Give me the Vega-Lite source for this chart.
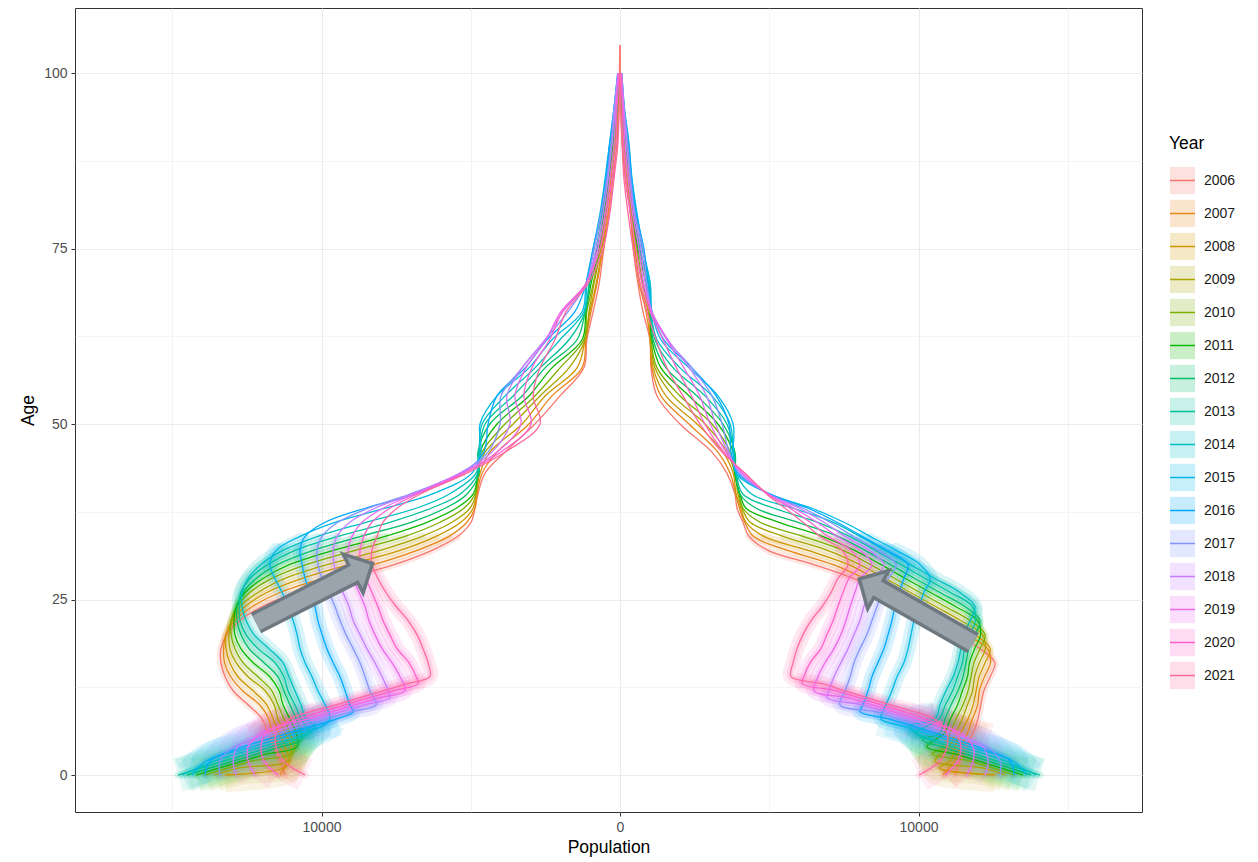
{
"$schema":"https://vega.github.io/schema/vega-lite/v6.json",
"width":1067,"height":804,
"autosize":{"type":"none"},
"padding":{"left":75,"top":8,"right":116,"bottom":50},
"background":"white",
"config":{
 "font":"Liberation Sans",
 "view":{"stroke":"#333333","strokeWidth":1},
 "axis":{"domain":false,"labelFont":"Liberation Sans","labelFontSize":14,"labelColor":"#4D4D4D","titleFont":"Liberation Sans","titleFontSize":17.5,"titleColor":"#000000","titleFontWeight":"normal","gridColor":"#EBEBEB","tickSize":4,"tickWidth":1,"labelFlush":false,"labelOverlap":false}
},
"data":{"values":[
{"year":2006,"age":0,"male":-11220,"female":11220},{"year":2006,"age":2,"male":-11390,"female":11390},{"year":2006,"age":4,"male":-11590,"female":11590},{"year":2006,"age":6,"male":-11790,"female":11830},{"year":2006,"age":8,"male":-11990,"female":11990},{"year":2006,"age":10,"male":-12460,"female":12090},{"year":2006,"age":12,"male":-12960,"female":12190},{"year":2006,"age":14,"male":-13230,"female":12400},{"year":2006,"age":16,"male":-13370,"female":12560},{"year":2006,"age":18,"male":-13370,"female":12060},{"year":2006,"age":20,"male":-13170,"female":11220},{"year":2006,"age":22,"male":-12730,"female":10390},{"year":2006,"age":24,"male":-11990,"female":9550},{"year":2006,"age":26,"male":-10820,"female":8710},{"year":2006,"age":28,"male":-9210,"female":7810},{"year":2006,"age":30,"male":-7540,"female":6470},{"year":2006,"age":32,"male":-6300,"female":4960},{"year":2006,"age":34,"male":-5430,"female":4320},{"year":2006,"age":36,"male":-4990,"female":4120},{"year":2006,"age":38,"male":-4860,"female":3920},{"year":2006,"age":40,"male":-4760,"female":3850},{"year":2006,"age":43,"male":-4520,"female":3580},{"year":2006,"age":46,"male":-3850,"female":3080},{"year":2006,"age":50,"male":-2850,"female":2010},{"year":2006,"age":54,"male":-2010,"female":1240},{"year":2006,"age":58,"male":-1210,"female":1040},{"year":2006,"age":62,"male":-1110,"female":1000},{"year":2006,"age":66,"male":-900,"female":770},{"year":2006,"age":70,"male":-700,"female":600},{"year":2006,"age":75,"male":-540,"female":440},{"year":2006,"age":80,"male":-370,"female":340},{"year":2006,"age":85,"male":-230,"female":170},{"year":2006,"age":90,"male":-100,"female":70},{"year":2006,"age":95,"male":-30,"female":30},{"year":2006,"age":100,"male":-20,"female":10},{"year":2006,"age":104,"male":-5,"female":3},
{"year":2007,"age":0,"male":-11390,"female":10820},{"year":2007,"age":2,"male":-11190,"female":11210},{"year":2007,"age":4,"male":-11400,"female":11410},{"year":2007,"age":6,"male":-11640,"female":11640},{"year":2007,"age":8,"male":-11770,"female":11810},{"year":2007,"age":10,"male":-12070,"female":11980},{"year":2007,"age":12,"male":-12640,"female":12040},{"year":2007,"age":14,"male":-13040,"female":12210},{"year":2007,"age":16,"male":-13250,"female":12410},{"year":2007,"age":18,"male":-13280,"female":12310},{"year":2007,"age":20,"male":-13210,"female":11570},{"year":2007,"age":22,"male":-12910,"female":10740},{"year":2007,"age":24,"male":-12310,"female":9900},{"year":2007,"age":26,"male":-11400,"female":9060},{"year":2007,"age":28,"male":-9960,"female":8190},{"year":2007,"age":30,"male":-8220,"female":7120},{"year":2007,"age":32,"male":-6800,"female":5620},{"year":2007,"age":34,"male":-5730,"female":4470},{"year":2007,"age":36,"male":-5130,"female":4180},{"year":2007,"age":38,"male":-4860,"female":4000},{"year":2007,"age":40,"male":-4790,"female":3880},{"year":2007,"age":43,"male":-4620,"female":3690},{"year":2007,"age":46,"male":-4120,"female":3280},{"year":2007,"age":50,"male":-3050,"female":2310},{"year":2007,"age":54,"male":-2280,"female":1370},{"year":2007,"age":58,"male":-1270,"female":1070},{"year":2007,"age":62,"male":-1140,"female":1010},{"year":2007,"age":66,"male":-970,"female":870},{"year":2007,"age":70,"male":-770,"female":640},{"year":2007,"age":75,"male":-570,"female":470},{"year":2007,"age":80,"male":-400,"female":350},{"year":2007,"age":85,"male":-270,"female":200},{"year":2007,"age":90,"male":-120,"female":80},{"year":2007,"age":95,"male":-50,"female":30},{"year":2007,"age":100,"male":-20,"female":10},
{"year":2008,"age":0,"male":-13230,"female":12560},{"year":2008,"age":1,"male":-11260,"female":10690},{"year":2008,"age":2,"male":-11060,"female":11060},{"year":2008,"age":4,"male":-11220,"female":11220},{"year":2008,"age":6,"male":-11420,"female":11420},{"year":2008,"age":8,"male":-11620,"female":11660},{"year":2008,"age":10,"male":-11830,"female":11830},{"year":2008,"age":12,"male":-12290,"female":11930},{"year":2008,"age":14,"male":-12800,"female":12030},{"year":2008,"age":16,"male":-13070,"female":12230},{"year":2008,"age":18,"male":-13200,"female":12400},{"year":2008,"age":20,"male":-13200,"female":11890},{"year":2008,"age":22,"male":-13000,"female":11060},{"year":2008,"age":24,"male":-12560,"female":10220},{"year":2008,"age":26,"male":-11830,"female":9380},{"year":2008,"age":28,"male":-10650,"female":8540},{"year":2008,"age":30,"male":-9050,"female":7640},{"year":2008,"age":32,"male":-7370,"female":6300},{"year":2008,"age":34,"male":-6160,"female":4820},{"year":2008,"age":36,"male":-5330,"female":4220},{"year":2008,"age":38,"male":-4920,"female":4050},{"year":2008,"age":40,"male":-4820,"female":3890},{"year":2008,"age":43,"male":-4690,"female":3790},{"year":2008,"age":46,"male":-4360,"female":3450},{"year":2008,"age":50,"male":-3280,"female":2580},{"year":2008,"age":54,"male":-2510,"female":1540},{"year":2008,"age":58,"male":-1440,"female":1110},{"year":2008,"age":62,"male":-1170,"female":1010},{"year":2008,"age":66,"male":-1010,"female":940},{"year":2008,"age":70,"male":-800,"female":670},{"year":2008,"age":75,"male":-600,"female":500},{"year":2008,"age":80,"male":-440,"female":370},{"year":2008,"age":85,"male":-300,"female":230},{"year":2008,"age":90,"male":-130,"female":100},{"year":2008,"age":95,"male":-70,"female":40},{"year":2008,"age":100,"male":-20,"female":20},
{"year":2009,"age":0,"male":-13570,"female":12900},{"year":2009,"age":1,"male":-12760,"female":12130},{"year":2009,"age":2,"male":-11120,"female":10550},{"year":2009,"age":4,"male":-11020,"female":11040},{"year":2009,"age":6,"male":-11220,"female":11240},{"year":2009,"age":8,"male":-11460,"female":11470},{"year":2009,"age":10,"male":-11590,"female":11640},{"year":2009,"age":12,"male":-11890,"female":11810},{"year":2009,"age":14,"male":-12460,"female":11880},{"year":2009,"age":16,"male":-12860,"female":12040},{"year":2009,"age":18,"male":-13070,"female":12240},{"year":2009,"age":20,"male":-13100,"female":12140},{"year":2009,"age":22,"male":-13030,"female":11410},{"year":2009,"age":24,"male":-12730,"female":10570},{"year":2009,"age":26,"male":-12130,"female":9730},{"year":2009,"age":28,"male":-11220,"female":8890},{"year":2009,"age":30,"male":-9780,"female":8020},{"year":2009,"age":32,"male":-8040,"female":6950},{"year":2009,"age":34,"male":-6630,"female":5460},{"year":2009,"age":36,"male":-5630,"female":4360},{"year":2009,"age":38,"male":-5030,"female":4090},{"year":2009,"age":40,"male":-4820,"female":3950},{"year":2009,"age":43,"male":-4760,"female":3850},{"year":2009,"age":46,"male":-4520,"female":3580},{"year":2009,"age":50,"male":-3580,"female":2850},{"year":2009,"age":54,"male":-2680,"female":1780},{"year":2009,"age":58,"male":-1710,"female":1170},{"year":2009,"age":62,"male":-1170,"female":1040},{"year":2009,"age":66,"male":-1040,"female":970},{"year":2009,"age":70,"male":-870,"female":740},{"year":2009,"age":75,"male":-640,"female":540},{"year":2009,"age":80,"male":-470,"female":390},{"year":2009,"age":85,"male":-340,"female":270},{"year":2009,"age":90,"male":-170,"female":120},{"year":2009,"age":95,"male":-70,"female":50},{"year":2009,"age":100,"male":-30,"female":20},
{"year":2010,"age":0,"male":-13900,"female":13200},{"year":2010,"age":2,"male":-12290,"female":11690},{"year":2010,"age":3,"male":-10990,"female":10450},{"year":2010,"age":4,"male":-10890,"female":10890},{"year":2010,"age":6,"male":-11060,"female":11060},{"year":2010,"age":8,"male":-11260,"female":11260},{"year":2010,"age":10,"male":-11460,"female":11490},{"year":2010,"age":12,"male":-11660,"female":11660},{"year":2010,"age":14,"male":-12130,"female":11760},{"year":2010,"age":16,"male":-12630,"female":11860},{"year":2010,"age":18,"male":-12900,"female":12060},{"year":2010,"age":20,"male":-13030,"female":12230},{"year":2010,"age":22,"male":-13030,"female":11730},{"year":2010,"age":24,"male":-12830,"female":10890},{"year":2010,"age":26,"male":-12400,"female":10050},{"year":2010,"age":28,"male":-11660,"female":9210},{"year":2010,"age":30,"male":-10490,"female":8380},{"year":2010,"age":32,"male":-8880,"female":7470},{"year":2010,"age":34,"male":-7200,"female":6130},{"year":2010,"age":36,"male":-6030,"female":4690},{"year":2010,"age":38,"male":-5230,"female":4120},{"year":2010,"age":40,"male":-4860,"female":3990},{"year":2010,"age":43,"male":-4760,"female":3850},{"year":2010,"age":46,"male":-4620,"female":3690},{"year":2010,"age":50,"male":-3850,"female":3080},{"year":2010,"age":54,"male":-2850,"female":2010},{"year":2010,"age":58,"male":-2010,"female":1240},{"year":2010,"age":62,"male":-1210,"female":1040},{"year":2010,"age":66,"male":-1110,"female":1010},{"year":2010,"age":70,"male":-900,"female":770},{"year":2010,"age":75,"male":-670,"female":570},{"year":2010,"age":80,"male":-500,"female":400},{"year":2010,"age":85,"male":-350,"female":300},{"year":2010,"age":90,"male":-200,"female":150},{"year":2010,"age":95,"male":-80,"female":60},{"year":2010,"age":100,"male":-30,"female":30},
{"year":2011,"age":0,"male":-14200,"female":13500},{"year":2011,"age":2,"male":-12630,"female":11990},{"year":2011,"age":3,"male":-11830,"female":11220},{"year":2011,"age":4,"male":-10820,"female":10280},{"year":2011,"age":6,"male":-10850,"female":10870},{"year":2011,"age":8,"male":-11060,"female":11070},{"year":2011,"age":10,"male":-11290,"female":11310},{"year":2011,"age":12,"male":-11420,"female":11470},{"year":2011,"age":14,"male":-11730,"female":11640},{"year":2011,"age":16,"male":-12290,"female":11710},{"year":2011,"age":18,"male":-12700,"female":11880},{"year":2011,"age":20,"male":-12900,"female":12080},{"year":2011,"age":22,"male":-12930,"female":11980},{"year":2011,"age":24,"male":-12860,"female":11240},{"year":2011,"age":26,"male":-12560,"female":10400},{"year":2011,"age":28,"male":-11960,"female":9560},{"year":2011,"age":30,"male":-11060,"female":8730},{"year":2011,"age":32,"male":-9610,"female":7860},{"year":2011,"age":34,"male":-7870,"female":6780},{"year":2011,"age":36,"male":-6470,"female":5320},{"year":2011,"age":38,"male":-5490,"female":4220},{"year":2011,"age":40,"male":-4920,"female":4020},{"year":2011,"age":43,"male":-4760,"female":3840},{"year":2011,"age":46,"male":-4690,"female":3790},{"year":2011,"age":50,"male":-4120,"female":3280},{"year":2011,"age":54,"male":-3050,"female":2310},{"year":2011,"age":58,"male":-2280,"female":1370},{"year":2011,"age":62,"male":-1270,"female":1070},{"year":2011,"age":66,"male":-1140,"female":1010},{"year":2011,"age":70,"male":-970,"female":870},{"year":2011,"age":75,"male":-700,"female":600},{"year":2011,"age":80,"male":-540,"female":440},{"year":2011,"age":85,"male":-370,"female":340},{"year":2011,"age":90,"male":-230,"female":170},{"year":2011,"age":95,"male":-100,"female":70},{"year":2011,"age":100,"male":-30,"female":30},
{"year":2012,"age":0,"male":-14510,"female":13770},{"year":2012,"age":2,"male":-12960,"female":12330},{"year":2012,"age":4,"male":-11360,"female":10790},{"year":2012,"age":5,"male":-10650,"female":10120},{"year":2012,"age":6,"male":-10690,"female":10720},{"year":2012,"age":8,"male":-10850,"female":10890},{"year":2012,"age":10,"male":-11060,"female":11090},{"year":2012,"age":12,"male":-11260,"female":11320},{"year":2012,"age":14,"male":-11460,"female":11490},{"year":2012,"age":16,"male":-11930,"female":11590},{"year":2012,"age":18,"male":-12430,"female":11690},{"year":2012,"age":20,"male":-12700,"female":11890},{"year":2012,"age":22,"male":-12830,"female":12060},{"year":2012,"age":24,"male":-12830,"female":11560},{"year":2012,"age":26,"male":-12630,"female":10720},{"year":2012,"age":28,"male":-12190,"female":9880},{"year":2012,"age":30,"male":-11460,"female":9050},{"year":2012,"age":32,"male":-10280,"female":8210},{"year":2012,"age":34,"male":-8680,"female":7300},{"year":2012,"age":36,"male":-7000,"female":5960},{"year":2012,"age":38,"male":-5860,"female":4560},{"year":2012,"age":40,"male":-5130,"female":4020},{"year":2012,"age":43,"male":-4720,"female":3870},{"year":2012,"age":46,"male":-4760,"female":3850},{"year":2012,"age":50,"male":-4360,"female":3450},{"year":2012,"age":54,"male":-3280,"female":2580},{"year":2012,"age":58,"male":-2510,"female":1540},{"year":2012,"age":62,"male":-1440,"female":1110},{"year":2012,"age":66,"male":-1170,"female":1010},{"year":2012,"age":70,"male":-1010,"female":940},{"year":2012,"age":75,"male":-770,"female":640},{"year":2012,"age":80,"male":-570,"female":470},{"year":2012,"age":85,"male":-400,"female":350},{"year":2012,"age":90,"male":-270,"female":200},{"year":2012,"age":95,"male":-120,"female":80},{"year":2012,"age":100,"male":-50,"female":30},
{"year":2013,"age":0,"male":-14810,"female":14070},{"year":2013,"age":2,"male":-13270,"female":12600},{"year":2013,"age":4,"male":-11690,"female":11120},{"year":2013,"age":5,"male":-10890,"female":10350},{"year":2013,"age":6,"male":-10450,"female":9920},{"year":2013,"age":8,"male":-10690,"female":10700},{"year":2013,"age":10,"male":-10890,"female":10900},{"year":2013,"age":12,"male":-11120,"female":11140},{"year":2013,"age":14,"male":-11260,"female":11310},{"year":2013,"age":16,"male":-11560,"female":11470},{"year":2013,"age":18,"male":-12130,"female":11540},{"year":2013,"age":20,"male":-12530,"female":11710},{"year":2013,"age":22,"male":-12730,"female":11910},{"year":2013,"age":24,"male":-12760,"female":11810},{"year":2013,"age":26,"male":-12700,"female":11070},{"year":2013,"age":28,"male":-12400,"female":10230},{"year":2013,"age":30,"male":-11790,"female":9400},{"year":2013,"age":32,"male":-10890,"female":8560},{"year":2013,"age":34,"male":-9450,"female":7690},{"year":2013,"age":36,"male":-7710,"female":6620},{"year":2013,"age":38,"male":-6330,"female":5160},{"year":2013,"age":40,"male":-5360,"female":4120},{"year":2013,"age":43,"male":-4760,"female":3890},{"year":2013,"age":46,"male":-4720,"female":3820},{"year":2013,"age":50,"male":-4520,"female":3580},{"year":2013,"age":54,"male":-3580,"female":2850},{"year":2013,"age":58,"male":-2680,"female":1780},{"year":2013,"age":62,"male":-1710,"female":1170},{"year":2013,"age":66,"male":-1170,"female":1040},{"year":2013,"age":70,"male":-1040,"female":970},{"year":2013,"age":75,"male":-800,"female":670},{"year":2013,"age":80,"male":-600,"female":500},{"year":2013,"age":85,"male":-440,"female":370},{"year":2013,"age":90,"male":-300,"female":230},{"year":2013,"age":95,"male":-130,"female":100},{"year":2013,"age":100,"male":-70,"female":40},
{"year":2014,"age":0,"male":-14670,"female":13940},{"year":2014,"age":2,"male":-13570,"female":12900},{"year":2014,"age":4,"male":-12030,"female":11420},{"year":2014,"age":6,"male":-10420,"female":9880},{"year":2014,"age":7,"male":-10220,"female":9720},{"year":2014,"age":8,"male":-10520,"female":10550},{"year":2014,"age":10,"male":-10690,"female":10720},{"year":2014,"age":12,"male":-10890,"female":10920},{"year":2014,"age":14,"male":-11090,"female":11160},{"year":2014,"age":16,"male":-11290,"female":11320},{"year":2014,"age":18,"male":-11760,"female":11420},{"year":2014,"age":20,"male":-12260,"female":11520},{"year":2014,"age":22,"male":-12530,"female":11730},{"year":2014,"age":24,"male":-12660,"female":11890},{"year":2014,"age":26,"male":-12660,"female":11390},{"year":2014,"age":28,"male":-12460,"female":10550},{"year":2014,"age":30,"male":-12030,"female":9720},{"year":2014,"age":32,"male":-11290,"female":8880},{"year":2014,"age":34,"male":-10120,"female":8040},{"year":2014,"age":36,"male":-8510,"female":7140},{"year":2014,"age":38,"male":-6830,"female":5800},{"year":2014,"age":40,"male":-5730,"female":4420},{"year":2014,"age":43,"male":-4820,"female":3890},{"year":2014,"age":46,"male":-4720,"female":3790},{"year":2014,"age":50,"male":-4620,"female":3690},{"year":2014,"age":54,"male":-3850,"female":3080},{"year":2014,"age":58,"male":-2850,"female":2010},{"year":2014,"age":62,"male":-2010,"female":1240},{"year":2014,"age":66,"male":-1210,"female":1040},{"year":2014,"age":70,"male":-1110,"female":1010},{"year":2014,"age":75,"male":-870,"female":740},{"year":2014,"age":80,"male":-640,"female":540},{"year":2014,"age":85,"male":-470,"female":390},{"year":2014,"age":90,"male":-340,"female":270},{"year":2014,"age":95,"male":-170,"female":120},{"year":2014,"age":100,"male":-70,"female":50},
{"year":2015,"age":0,"male":-14340,"female":13630},{"year":2015,"age":2,"male":-13870,"female":13170},{"year":2015,"age":4,"male":-12330,"female":11730},{"year":2015,"age":6,"male":-10750,"female":10220},{"year":2015,"age":7,"male":-9950,"female":9450},{"year":2015,"age":8,"male":-9720,"female":8740},{"year":2015,"age":10,"male":-9880,"female":8910},{"year":2015,"age":12,"male":-10120,"female":9110},{"year":2015,"age":14,"male":-10320,"female":9280},{"year":2015,"age":16,"male":-10550,"female":9510},{"year":2015,"age":18,"male":-10720,"female":9650},{"year":2015,"age":20,"male":-10820,"female":9750},{"year":2015,"age":22,"male":-10950,"female":9850},{"year":2015,"age":24,"male":-11120,"female":10020},{"year":2015,"age":26,"male":-11320,"female":10180},{"year":2015,"age":28,"male":-11560,"female":10390},{"year":2015,"age":30,"male":-11730,"female":10050},{"year":2015,"age":32,"male":-11520,"female":9250},{"year":2015,"age":34,"male":-10720,"female":8380},{"year":2015,"age":36,"male":-9550,"female":7500},{"year":2015,"age":38,"male":-7870,"female":6430},{"year":2015,"age":40,"male":-6300,"female":5030},{"year":2015,"age":43,"male":-4960,"female":3890},{"year":2015,"age":46,"male":-4660,"female":3790},{"year":2015,"age":50,"male":-4690,"female":3790},{"year":2015,"age":54,"male":-4120,"female":3280},{"year":2015,"age":58,"male":-3050,"female":2310},{"year":2015,"age":62,"male":-2280,"female":1370},{"year":2015,"age":66,"male":-1270,"female":1070},{"year":2015,"age":70,"male":-1140,"female":1010},{"year":2015,"age":75,"male":-900,"female":770},{"year":2015,"age":80,"male":-670,"female":570},{"year":2015,"age":85,"male":-500,"female":400},{"year":2015,"age":90,"male":-350,"female":300},{"year":2015,"age":95,"male":-200,"female":150},{"year":2015,"age":100,"male":-80,"female":60},
{"year":2016,"age":0,"male":-13900,"female":13200},{"year":2016,"age":2,"male":-13740,"female":13070},{"year":2016,"age":4,"male":-12630,"female":11990},{"year":2016,"age":6,"male":-11090,"female":10520},{"year":2016,"age":8,"male":-9480,"female":9010},{"year":2016,"age":9,"male":-8940,"female":8040},{"year":2016,"age":10,"male":-9050,"female":8140},{"year":2016,"age":12,"male":-9210,"female":8310},{"year":2016,"age":14,"male":-9380,"female":8440},{"year":2016,"age":16,"male":-9610,"female":8640},{"year":2016,"age":18,"male":-9820,"female":8840},{"year":2016,"age":20,"male":-9980,"female":8980},{"year":2016,"age":22,"male":-10120,"female":9110},{"year":2016,"age":24,"male":-10220,"female":9210},{"year":2016,"age":26,"male":-10390,"female":9350},{"year":2016,"age":28,"male":-10550,"female":9510},{"year":2016,"age":30,"male":-10650,"female":9650},{"year":2016,"age":32,"male":-10720,"female":8940},{"year":2016,"age":34,"male":-10550,"female":8110},{"year":2016,"age":36,"male":-9880,"female":7270},{"year":2016,"age":38,"male":-8540,"female":6300},{"year":2016,"age":40,"male":-6870,"female":5030},{"year":2016,"age":43,"male":-5260,"female":3950},{"year":2016,"age":46,"male":-4560,"female":3720},{"year":2016,"age":50,"male":-4420,"female":3650},{"year":2016,"age":54,"male":-4120,"female":3220},{"year":2016,"age":58,"male":-3180,"female":2410},{"year":2016,"age":62,"male":-2450,"female":1470},{"year":2016,"age":66,"male":-1510,"female":1070},{"year":2016,"age":70,"male":-1140,"female":940},{"year":2016,"age":75,"male":-900,"female":800},{"year":2016,"age":80,"male":-640,"female":540},{"year":2016,"age":85,"male":-470,"female":390},{"year":2016,"age":90,"male":-340,"female":290},{"year":2016,"age":95,"male":-200,"female":140},{"year":2016,"age":100,"male":-70,"female":60},
{"year":2017,"age":0,"male":-13400,"female":12730},{"year":2017,"age":2,"male":-13400,"female":12730},{"year":2017,"age":4,"male":-12930,"female":12290},{"year":2017,"age":6,"male":-11390,"female":10820},{"year":2017,"age":8,"male":-9820,"female":9310},{"year":2017,"age":9,"male":-9010,"female":8580},{"year":2017,"age":10,"male":-8170,"female":7370},{"year":2017,"age":12,"male":-8380,"female":7540},{"year":2017,"age":14,"male":-8540,"female":7710},{"year":2017,"age":16,"male":-8710,"female":7840},{"year":2017,"age":18,"male":-8940,"female":8040},{"year":2017,"age":20,"male":-9180,"female":8270},{"year":2017,"age":22,"male":-9380,"female":8440},{"year":2017,"age":24,"male":-9550,"female":8610},{"year":2017,"age":26,"male":-9750,"female":8780},{"year":2017,"age":28,"male":-9980,"female":8980},{"year":2017,"age":30,"male":-10120,"female":9250},{"year":2017,"age":32,"male":-10150,"female":8640},{"year":2017,"age":34,"male":-9980,"female":7810},{"year":2017,"age":36,"male":-9450,"female":7040},{"year":2017,"age":38,"male":-8440,"female":6130},{"year":2017,"age":40,"male":-7040,"female":4990},{"year":2017,"age":43,"male":-5360,"female":3990},{"year":2017,"age":46,"male":-4420,"female":3650},{"year":2017,"age":50,"male":-4020,"female":3420},{"year":2017,"age":54,"male":-3990,"female":3080},{"year":2017,"age":58,"male":-3280,"female":2410},{"year":2017,"age":62,"male":-2510,"female":1570},{"year":2017,"age":66,"male":-1740,"female":1070},{"year":2017,"age":70,"male":-1140,"female":900},{"year":2017,"age":75,"male":-870,"female":770},{"year":2017,"age":80,"male":-640,"female":500},{"year":2017,"age":85,"male":-440,"female":360},{"year":2017,"age":90,"male":-300,"female":260},{"year":2017,"age":95,"male":-200,"female":140},{"year":2017,"age":100,"male":-70,"female":60},
{"year":2018,"age":0,"male":-12860,"female":12230},{"year":2018,"age":2,"male":-12960,"female":12330},{"year":2018,"age":4,"male":-12800,"female":12160},{"year":2018,"age":6,"male":-11690,"female":11120},{"year":2018,"age":8,"male":-10150,"female":9650},{"year":2018,"age":10,"male":-8540,"female":8110},{"year":2018,"age":11,"male":-7710,"female":6930},{"year":2018,"age":12,"male":-7770,"female":7000},{"year":2018,"age":14,"male":-7970,"female":7170},{"year":2018,"age":16,"male":-8210,"female":7400},{"year":2018,"age":18,"male":-8480,"female":7640},{"year":2018,"age":20,"male":-8710,"female":7840},{"year":2018,"age":22,"male":-8940,"female":8040},{"year":2018,"age":24,"male":-9080,"female":8170},{"year":2018,"age":26,"male":-9280,"female":8340},{"year":2018,"age":28,"male":-9480,"female":8540},{"year":2018,"age":30,"male":-9580,"female":8840},{"year":2018,"age":32,"male":-9610,"female":8340},{"year":2018,"age":34,"male":-9480,"female":7540},{"year":2018,"age":36,"male":-9050,"female":6830},{"year":2018,"age":38,"male":-8210,"female":6000},{"year":2018,"age":40,"male":-6970,"female":4990},{"year":2018,"age":43,"male":-5360,"female":4050},{"year":2018,"age":46,"male":-4290,"female":3620},{"year":2018,"age":50,"male":-3690,"female":3200},{"year":2018,"age":54,"male":-3790,"female":2900},{"year":2018,"age":58,"male":-3280,"female":2330},{"year":2018,"age":62,"male":-2510,"female":1610},{"year":2018,"age":66,"male":-1910,"female":1070},{"year":2018,"age":70,"male":-1140,"female":850},{"year":2018,"age":75,"male":-800,"female":700},{"year":2018,"age":80,"male":-570,"female":470},{"year":2018,"age":85,"male":-400,"female":320},{"year":2018,"age":90,"male":-270,"female":220},{"year":2018,"age":95,"male":-170,"female":130},{"year":2018,"age":100,"male":-70,"female":50},
{"year":2019,"age":0,"male":-12230,"female":11620},{"year":2019,"age":2,"male":-12460,"female":11830},{"year":2019,"age":4,"male":-12460,"female":11830},{"year":2019,"age":6,"male":-11990,"female":11390},{"year":2019,"age":8,"male":-10450,"female":9920},{"year":2019,"age":10,"male":-8880,"female":8440},{"year":2019,"age":11,"male":-8070,"female":7670},{"year":2019,"age":12,"male":-7200,"female":6500},{"year":2019,"age":14,"male":-7370,"female":6630},{"year":2019,"age":16,"male":-7640,"female":6870},{"year":2019,"age":18,"male":-7970,"female":7170},{"year":2019,"age":20,"male":-8210,"female":7400},{"year":2019,"age":22,"male":-8410,"female":7570},{"year":2019,"age":24,"male":-8540,"female":7710},{"year":2019,"age":26,"male":-8740,"female":7870},{"year":2019,"age":28,"male":-8940,"female":8040},{"year":2019,"age":30,"male":-9080,"female":8440},{"year":2019,"age":32,"male":-9110,"female":8040},{"year":2019,"age":34,"male":-8980,"female":7270},{"year":2019,"age":36,"male":-8640,"female":6600},{"year":2019,"age":38,"male":-7940,"female":5830},{"year":2019,"age":40,"male":-6900,"female":4960},{"year":2019,"age":43,"male":-5290,"female":4090},{"year":2019,"age":46,"male":-4120,"female":3550},{"year":2019,"age":50,"male":-3320,"female":3020},{"year":2019,"age":54,"male":-3520,"female":2670},{"year":2019,"age":58,"male":-3150,"female":2140},{"year":2019,"age":62,"male":-2480,"female":1570},{"year":2019,"age":66,"male":-1980,"female":1060},{"year":2019,"age":70,"male":-1140,"female":800},{"year":2019,"age":75,"male":-740,"female":630},{"year":2019,"age":80,"male":-500,"female":420},{"year":2019,"age":85,"male":-340,"female":270},{"year":2019,"age":90,"male":-200,"female":170},{"year":2019,"age":95,"male":-130,"female":110},{"year":2019,"age":100,"male":-70,"female":50},
{"year":2020,"age":0,"male":-11460,"female":10890},{"year":2020,"age":2,"male":-11930,"female":11320},{"year":2020,"age":4,"male":-12030,"female":11420},{"year":2020,"age":6,"male":-11860,"female":11260},{"year":2020,"age":8,"male":-10750,"female":10220},{"year":2020,"age":10,"male":-9210,"female":8740},{"year":2020,"age":12,"male":-7600,"female":7240},{"year":2020,"age":13,"male":-6770,"female":6100},{"year":2020,"age":14,"male":-6830,"female":6160},{"year":2020,"age":16,"male":-7070,"female":6370},{"year":2020,"age":18,"male":-7470,"female":6730},{"year":2020,"age":20,"male":-7710,"female":6930},{"year":2020,"age":22,"male":-7940,"female":7140},{"year":2020,"age":24,"male":-8110,"female":7300},{"year":2020,"age":26,"male":-8310,"female":7470},{"year":2020,"age":28,"male":-8510,"female":7670},{"year":2020,"age":30,"male":-8680,"female":8040},{"year":2020,"age":32,"male":-8710,"female":7740},{"year":2020,"age":34,"male":-8580,"female":6970},{"year":2020,"age":36,"male":-8310,"female":6370},{"year":2020,"age":38,"male":-7710,"female":5700},{"year":2020,"age":40,"male":-6800,"female":4960},{"year":2020,"age":43,"male":-5230,"female":4150},{"year":2020,"age":46,"male":-3990,"female":3480},{"year":2020,"age":50,"male":-2980,"female":2840},{"year":2020,"age":54,"male":-3220,"female":2400},{"year":2020,"age":58,"male":-2950,"female":1890},{"year":2020,"age":62,"male":-2360,"female":1440},{"year":2020,"age":66,"male":-1930,"female":1010},{"year":2020,"age":70,"male":-1140,"female":740},{"year":2020,"age":75,"male":-670,"female":530},{"year":2020,"age":80,"male":-440,"female":350},{"year":2020,"age":85,"male":-270,"female":200},{"year":2020,"age":90,"male":-130,"female":120},{"year":2020,"age":95,"male":-100,"female":80},{"year":2020,"age":100,"male":-30,"female":30},
{"year":2021,"age":0,"male":-10550,"female":10020},{"year":2021,"age":2,"male":-11290,"female":10720},{"year":2021,"age":4,"male":-11520,"female":10950},{"year":2021,"age":6,"male":-11520,"female":10950},{"year":2021,"age":8,"male":-11060,"female":10520},{"year":2021,"age":10,"male":-9510,"female":9050},{"year":2021,"age":12,"male":-7940,"female":7540},{"year":2021,"age":13,"male":-7140,"female":6770},{"year":2021,"age":14,"male":-6370,"female":5730},{"year":2021,"age":16,"male":-6430,"female":5800},{"year":2021,"age":18,"male":-6600,"female":5930},{"year":2021,"age":20,"male":-6800,"female":6130},{"year":2021,"age":22,"male":-7100,"female":6400},{"year":2021,"age":24,"male":-7500,"female":6770},{"year":2021,"age":26,"male":-7840,"female":7070},{"year":2021,"age":28,"male":-8110,"female":7300},{"year":2021,"age":30,"male":-8310,"female":7640},{"year":2021,"age":32,"male":-8310,"female":7440},{"year":2021,"age":34,"male":-8140,"female":6700},{"year":2021,"age":36,"male":-7940,"female":6130},{"year":2021,"age":38,"male":-7470,"female":5530},{"year":2021,"age":40,"male":-6700,"female":4920},{"year":2021,"age":43,"male":-5130,"female":4190},{"year":2021,"age":46,"male":-3850,"female":3420},{"year":2021,"age":50,"male":-2680,"female":2680},{"year":2021,"age":54,"male":-2910,"female":2110},{"year":2021,"age":58,"male":-2680,"female":1570},{"year":2021,"age":62,"male":-2180,"female":1210},{"year":2021,"age":66,"male":-1810,"female":900},{"year":2021,"age":70,"male":-1070,"female":670},{"year":2021,"age":75,"male":-570,"female":440},{"year":2021,"age":80,"male":-340,"female":270},{"year":2021,"age":85,"male":-200,"female":130},{"year":2021,"age":90,"male":-70,"female":70},{"year":2021,"age":95,"male":-30,"female":30},{"year":2021,"age":100,"male":-10,"female":10}
]},
"transform":[{"fold":["male","female"],"as":["sex","pop"]}],
"encoding":{
 "x":{"field":"pop","type":"quantitative","title":"Population",
   "scale":{"domain":[-18258,17487],"nice":false,"zero":false},
   "axis":{"values":[-15000,-10000,-5000,0,5000,10000,15000],
     "labelExpr":"datum.value % 10000 === 0 ? format(abs(datum.value), 'd') : ''",
     "gridWidth":{"condition":{"test":"datum.value % 10000 === 0","value":1.1},"value":0.55},
     "tickColor":{"condition":{"test":"datum.value % 10000 === 0","value":"#333333"},"value":"rgba(0,0,0,0)"},
     "labelPadding":4,"titlePadding":4}},
 "y":{"field":"age","type":"quantitative","title":"Age",
   "scale":{"domain":[-5.27,109.26],"nice":false,"zero":false},
   "axis":{"values":[0,12.5,25,37.5,50,62.5,75,87.5,100],
     "labelExpr":"datum.value % 25 === 0 ? datum.label : ''",
     "gridWidth":{"condition":{"test":"datum.value % 25 === 0","value":1.1},"value":0.55},
     "tickColor":{"condition":{"test":"datum.value % 25 === 0","value":"#333333"},"value":"rgba(0,0,0,0)"},
     "labelPadding":4,"titlePadding":6}}
},
"layer":[
 {"transform":[{"filter":"datum.age <= 8"}],
  "mark":{"type":"line","strokeWidth":34,"strokeOpacity":0.11,"strokeCap":"butt","strokeJoin":"round","interpolate":"catmull-rom"},
  "encoding":{
   "stroke":{"field":"year","type":"nominal",
     "scale":{"domain":[2006,2007,2008,2009,2010,2011,2012,2013,2014,2015,2016,2017,2018,2019,2020,2021],
       "range":["#F8766D","#E7861B","#CD9600","#ABA300","#7CAE00","#0CB702","#00BE67","#00C19A","#00BFC4","#00B8E7","#00A9FF","#8494FF","#C77CFF","#ED68ED","#FF61CC","#FF68A1"]},
     "legend":{"title":"Year","orient":"none","legendX":1094,"legendY":127,"direction":"vertical","padding":0,
       "symbolType":"M-1,-1.1H1V1.1H-1Z","symbolSize":625,"symbolStrokeWidth":1.3,
       "clipHeight":28,"rowPadding":5,"labelOffset":8,
       "labelFont":"Liberation Sans","labelFontSize":14,"labelColor":"rgba(0,0,0,0)",
       "titleFont":"Liberation Sans","titleFontSize":17.5,"titleFontWeight":"normal","titleColor":"rgba(0,0,0,0)","titlePadding":14,
       "encode":{"symbols":{"update":{"fill":{"scale":"stroke","field":"value"},"fillOpacity":{"value":0.22},"strokeOpacity":{"value":0},"opacity":{"value":1}}}}}},
   "detail":{"field":"sex"},
   "order":{"field":"age","type":"quantitative"}}},
 {"transform":[{"filter":"datum.year >= 2013 && datum.age >= 6 && datum.age <= 32"}],
  "mark":{"type":"line","strokeWidth":15,"strokeOpacity":0.15,"strokeCap":"round","strokeJoin":"round","interpolate":"catmull-rom"},
  "encoding":{
   "stroke":{"field":"year","type":"nominal",
     "scale":{"domain":[2006,2007,2008,2009,2010,2011,2012,2013,2014,2015,2016,2017,2018,2019,2020,2021],
       "range":["#F8766D","#E7861B","#CD9600","#ABA300","#7CAE00","#0CB702","#00BE67","#00C19A","#00BFC4","#00B8E7","#00A9FF","#8494FF","#C77CFF","#ED68ED","#FF61CC","#FF68A1"]},
     "legend":{"title":"Year","orient":"none","legendX":1094,"legendY":127,"direction":"vertical","padding":0,
       "symbolType":"M-1,-1.1H1V1.1H-1Z","symbolSize":625,"symbolStrokeWidth":1.3,
       "clipHeight":28,"rowPadding":5,"labelOffset":8,
       "labelFont":"Liberation Sans","labelFontSize":14,"labelColor":"rgba(0,0,0,0)",
       "titleFont":"Liberation Sans","titleFontSize":17.5,"titleFontWeight":"normal","titleColor":"rgba(0,0,0,0)","titlePadding":14,
       "encode":{"symbols":{"update":{"fill":{"scale":"stroke","field":"value"},"fillOpacity":{"value":0.22},"strokeOpacity":{"value":0},"opacity":{"value":1}}}}}},
   "detail":{"field":"sex"},
   "order":{"field":"age","type":"quantitative"}}},
 {"transform":[{"filter":"datum.age <= 34"}],
  "mark":{"type":"line","strokeWidth":7,"strokeOpacity":0.17,"strokeCap":"round","strokeJoin":"round","interpolate":"catmull-rom"},
  "encoding":{
   "color":{"field":"year","type":"nominal",
     "scale":{"range":["#F8766D","#E7861B","#CD9600","#ABA300","#7CAE00","#0CB702","#00BE67","#00C19A","#00BFC4","#00B8E7","#00A9FF","#8494FF","#C77CFF","#ED68ED","#FF61CC","#FF68A1"]},
     "legend":{"title":"Year","orient":"none","legendX":1094,"legendY":127,"direction":"vertical","padding":0,
       "symbolType":"stroke","symbolSize":625,"symbolStrokeWidth":1.3,"symbolOpacity":1,
       "clipHeight":28,"rowPadding":5,"labelOffset":8,
       "labelFont":"Liberation Sans","labelFontSize":14,"labelColor":"#1A1A1A",
       "titleFont":"Liberation Sans","titleFontSize":17.5,"titleFontWeight":"normal","titleColor":"#000000","titlePadding":14,
       "encode":{"symbols":{"update":{"strokeOpacity":{"value":1},"strokeWidth":{"value":1.3}}}}}},
   "detail":{"field":"sex"},
   "order":{"field":"age","type":"quantitative"}}},
 {"mark":{"type":"line","strokeWidth":1.3,"interpolate":"catmull-rom"},
  "encoding":{
   "color":{"field":"year","type":"nominal",
     "scale":{"range":["#F8766D","#E7861B","#CD9600","#ABA300","#7CAE00","#0CB702","#00BE67","#00C19A","#00BFC4","#00B8E7","#00A9FF","#8494FF","#C77CFF","#ED68ED","#FF61CC","#FF68A1"]},
     "legend":{"title":"Year","orient":"none","legendX":1094,"legendY":127,"direction":"vertical","padding":0,
       "symbolType":"stroke","symbolSize":625,"symbolStrokeWidth":1.3,"symbolOpacity":1,
       "clipHeight":28,"rowPadding":5,"labelOffset":8,
       "labelFont":"Liberation Sans","labelFontSize":14,"labelColor":"#1A1A1A",
       "titleFont":"Liberation Sans","titleFontSize":17.5,"titleFontWeight":"normal","titleColor":"#000000","titlePadding":14,
       "encode":{"symbols":{"update":{"strokeOpacity":{"value":1},"strokeWidth":{"value":1.3}}}}}},
   "detail":{"field":"sex"},
   "order":{"field":"age","type":"quantitative"}}},
 {"data":{"values":[{"x1":-12194,"y1":21.65,"x2":-8841,"y2":28.89},{"x1":11826,"y1":18.8,"x2":8509,"y2":26.84}]},
  "mark":{"type":"rule","strokeWidth":23,"color":"#6E7880","strokeCap":"butt"},
  "encoding":{
   "x":{"field":"x1","type":"quantitative","title":"Population","scale":{"domain":[-18258,17487],"nice":false,"zero":false}},
   "y":{"field":"y1","type":"quantitative","title":"Age","scale":{"domain":[-5.27,109.26],"nice":false,"zero":false}},
   "x2":{"field":"x2"},"y2":{"field":"y2"}}},
 {"data":{"values":[{"hx":-8618,"hy":29.42}]},
  "mark":{"type":"point","shape":"M0,-0.5L1,0.5L-1,0.5Z","filled":true,"fill":"#9AA4AD","stroke":"#6E7880","strokeWidth":3.5,"size":1900,"angle":62.7,"opacity":1},
  "encoding":{
   "x":{"field":"hx","type":"quantitative","title":"Population","scale":{"domain":[-18258,17487],"nice":false,"zero":false}},
   "y":{"field":"hy","type":"quantitative","title":"Age","scale":{"domain":[-5.27,109.26],"nice":false,"zero":false}}}},
 {"data":{"values":[{"hx":8333,"hy":27.17}]},
  "mark":{"type":"point","shape":"M0,-0.5L1,0.5L-1,0.5Z","filled":true,"fill":"#9AA4AD","stroke":"#6E7880","strokeWidth":3.5,"size":1900,"angle":299.1,"opacity":1},
  "encoding":{
   "x":{"field":"hx","type":"quantitative","title":"Population","scale":{"domain":[-18258,17487],"nice":false,"zero":false}},
   "y":{"field":"hy","type":"quantitative","title":"Age","scale":{"domain":[-5.27,109.26],"nice":false,"zero":false}}}},
 {"data":{"values":[{"x1":-12194,"y1":21.65,"x2":-8841,"y2":28.89},{"x1":11826,"y1":18.8,"x2":8509,"y2":26.84}]},
  "mark":{"type":"rule","strokeWidth":16,"color":"#9AA4AD","strokeCap":"butt"},
  "encoding":{
   "x":{"field":"x1","type":"quantitative","title":"Population","scale":{"domain":[-18258,17487],"nice":false,"zero":false}},
   "y":{"field":"y1","type":"quantitative","title":"Age","scale":{"domain":[-5.27,109.26],"nice":false,"zero":false}},
   "x2":{"field":"x2"},"y2":{"field":"y2"}}}
]
}
